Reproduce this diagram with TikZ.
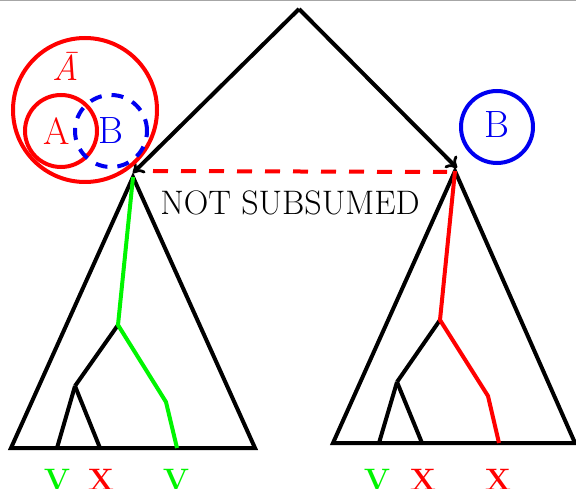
\documentclass[tikz,border=0pt]{standalone}
\usepackage{fontspec}
\usetikzlibrary{arrows.meta}
\definecolor{vgreen}{RGB}{0,245,0}
\definecolor{xred}{RGB}{255,0,0}
\definecolor{bblue}{RGB}{0,0,240}
\begin{document}
\begin{tikzpicture}[x=1pt,y=-1pt,line width=4pt,line join=miter,
  ring/.style={circle,draw,minimum size=#1,inner sep=0pt},
  bigtxt/.style={font=\fontsize{38}{39}\selectfont,inner sep=0pt},
  leaf/.style={font=\fontsize{31}{32}\selectfont\bfseries,inner sep=0pt},
  arr/.style={-{Computer Modern Rightarrow[length=10pt,width=17pt,line width=2.8pt]}}]
\useasboundingbox (0,0) rectangle (576,489);
\draw[gray!70,line width=1.2pt] (0,0.6) -- (576,0.6);
% coordinates
\coordinate (top) at (299,9);
\coordinate (Ltip) at (133,173);
\coordinate (Rtip) at (457,168);
\coordinate (Lapex) at (133,177);
\coordinate (Lbl) at (11,448);
\coordinate (Lbr) at (255,448);
\coordinate (La) at (118,325);
\coordinate (Lb) at (75,386);
\coordinate (Lc) at (166,402);
\coordinate (Ll1) at (57,448);
\coordinate (Ll2) at (100,448);
\coordinate (Ll3) at (177,448);
\coordinate (Rapex) at (455,171);
\coordinate (Rbl) at (333,443);
\coordinate (Rbr) at (575,443);
\coordinate (Ra) at (440,320);
\coordinate (Rb) at (397,382);
\coordinate (Rc) at (488,396);
\coordinate (Rl1) at (379,443);
\coordinate (Rl2) at (422,443);
\coordinate (Rl3) at (499,443);
\coordinate (dl) at (153,171);
\coordinate (dr) at (447,172);
% arrows from the top
\draw[arr] (top) -- (Ltip);
\draw[arr] (top) -- (Rtip);
% triangles
\draw (Lbl) -- (Lapex) -- (Lbr) -- cycle;
\draw (Rbl) -- (Rapex) -- (Rbr) -- cycle;
% left tree
\draw (La) -- (Lb);
\draw (Lb) -- (Ll1);
\draw (Lb) -- (Ll2);
\draw[vgreen] (Lapex) -- (La) -- (Lc) -- (Ll3);
% right tree
\draw (Ra) -- (Rb);
\draw (Rb) -- (Rl1);
\draw (Rb) -- (Rl2);
\draw[xred] (Rapex) -- (Ra) -- (Rc) -- (Rl3);
% dashed link
\draw[xred,dash pattern=on 15pt off 13pt] (dl) -- (dr);
\node[inner sep=0pt,font=\fontsize{34}{35}\selectfont] (ns) at (290,203) {NOT SUBSUMED};
% circles
\node[ring=144pt,draw=xred] (Abar) at (85,110) {};
\node[bigtxt,text=xred,font=\fontsize{36}{37}\selectfont\itshape] (Abarl) at (66,66) {\=A};
\node[ring=72pt,draw=xred] (Ac) at (61,131) {};
\node[ring=72pt,draw=bblue,dash pattern=on 12pt off 10pt] (Bc) at (111,131) {};
\node[bigtxt,text=xred] (Al) at (57,131) {A};
\node[bigtxt,text=bblue] (Bl) at (111,131) {B};
\node[ring=72pt,draw=bblue] (Bc2) at (497,127) {};
\node[bigtxt,text=bblue] (Bl2) at (497,125) {B};
% leaf labels
\node[leaf,text=vgreen,anchor=north] (v1) at (57,467) {V};
\node[leaf,text=xred,anchor=north] (x1) at (101,467) {X};
\node[leaf,text=vgreen,anchor=north] (v2) at (176,467) {V};
\node[leaf,text=vgreen,anchor=north] (v3) at (377,467) {V};
\node[leaf,text=xred,anchor=north] (x2) at (423,467) {X};
\node[leaf,text=xred,anchor=north] (x3) at (498,467) {X};
\end{tikzpicture}
\end{document}
